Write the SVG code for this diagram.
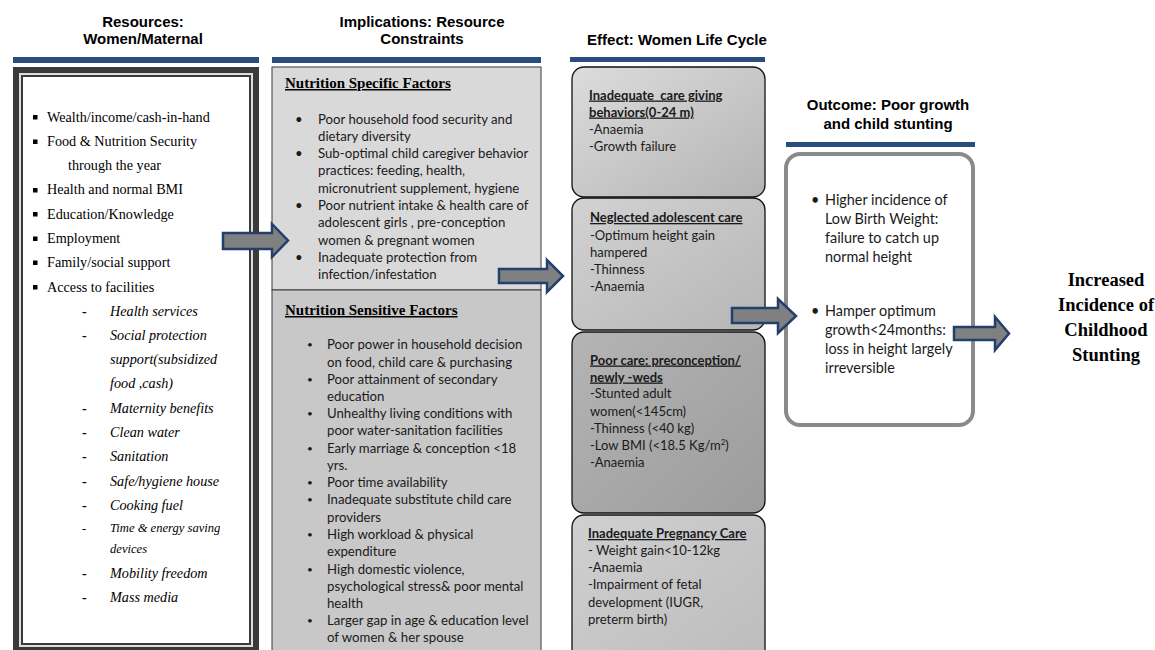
<svg xmlns="http://www.w3.org/2000/svg" width="1155" height="650" viewBox="0 0 1155 650">
<defs>
<linearGradient id="g1" x1="0" y1="0" x2="1" y2="1"><stop offset="0" stop-color="#dcdcdc"/><stop offset="1" stop-color="#b4b4b4"/></linearGradient>
<linearGradient id="g2" x1="0" y1="0" x2="1" y2="1"><stop offset="0" stop-color="#d2d2d2"/><stop offset="1" stop-color="#b6b6b6"/></linearGradient>
<linearGradient id="g3" x1="0" y1="0" x2="1" y2="1"><stop offset="0" stop-color="#b4b4b4"/><stop offset="1" stop-color="#9c9c9c"/></linearGradient>
<linearGradient id="g4" x1="0" y1="0" x2="1" y2="1"><stop offset="0" stop-color="#d0d0d0"/><stop offset="1" stop-color="#bcbcbc"/></linearGradient>
</defs>
<style>
.hd{font-family:"Liberation Sans",Arial,sans-serif;font-weight:bold;font-size:15px;fill:#000;text-anchor:middle}
.rule{fill:#2a4d80}
.ls{font-family:"Liberation Serif","Times New Roman",serif;font-size:14.2px;fill:#000}
.li{font-family:"Liberation Serif","Times New Roman",serif;font-size:14.2px;font-style:italic;fill:#000}
.dash{font-family:"Liberation Serif",serif;font-size:14.2px;font-weight:bold;fill:#000}
.sm{font-size:12.6px}
.sq{fill:#000}
.mt{font-family:"Liberation Serif","Times New Roman",serif;font-size:15px;font-weight:bold;text-decoration:underline;fill:#000}
.cb{font-family:Lato,"Liberation Sans",sans-serif;font-size:13.2px;fill:#1a1a1a}
.cb .sb{font-size:10px}
.ce{font-family:Lato,"Liberation Sans",sans-serif;font-size:13px;fill:#1a1a1a;white-space:pre}
.ceb{font-family:Lato,"Liberation Sans",sans-serif;font-size:13px;font-weight:bold;text-decoration:underline;fill:#1a1a1a;white-space:pre}
.sup{font-size:8px}
.co{font-family:Lato,"Liberation Sans",sans-serif;font-size:14.4px;fill:#1a1a1a}
.fin{font-family:"Liberation Serif","Times New Roman",serif;font-size:18.5px;font-weight:bold;fill:#000;text-anchor:middle}
.ebox{stroke:#111;stroke-width:1.3}
.arr{fill:#808080;stroke:#22406b;stroke-width:2.5;stroke-linejoin:miter}
</style>
<rect width="1155" height="650" fill="#fff"/>

<g id="header-resources">
<text class="hd" x="143" y="27">Resources:</text>
<text class="hd" x="143" y="44">Women/Maternal</text>
<rect class="rule" x="13" y="57" width="246" height="6"/>
</g>
<g id="header-implications">
<text class="hd" x="422" y="27">Implications: Resource</text>
<text class="hd" x="422" y="44">Constraints</text>
<rect class="rule" x="272" y="57" width="269" height="6"/>
</g>
<g id="header-effect">
<text class="hd" x="677" y="45">Effect: Women Life Cycle</text>
<rect class="rule" x="570" y="57" width="195" height="5"/>
</g>
<g id="header-outcome">
<text class="hd" x="888" y="110">Outcome: Poor growth</text>
<text class="hd" x="888" y="129">and child stunting</text>
<rect class="rule" x="786" y="142" width="189" height="5"/>
</g>

<g id="node-resources">
<rect x="13" y="67" width="246" height="586" fill="#3a3a3a"/>
<rect x="19" y="73" width="234" height="574" fill="#dedede"/>
<rect x="21" y="75" width="230" height="570" fill="#3a3a3a"/>
<rect x="23" y="77" width="226" height="566" fill="#fff"/>
<rect class="sq" x="33" y="115" width="4.5" height="4.5"/>
<text class="ls" x="47" y="121.5">Wealth/income/cash-in-hand</text>
<rect class="sq" x="33" y="139.5" width="4.5" height="4.5"/>
<text class="ls" x="47" y="146">Food &amp; Nutrition Security</text>
<text class="ls" x="68" y="170">through the year</text>
<rect class="sq" x="33" y="188" width="4.5" height="4.5"/>
<text class="ls" x="47" y="194">Health and normal BMI</text>
<rect class="sq" x="33" y="212" width="4.5" height="4.5"/>
<text class="ls" x="47" y="218.5">Education/Knowledge</text>
<rect class="sq" x="33" y="236.5" width="4.5" height="4.5"/>
<text class="ls" x="47" y="243">Employment</text>
<rect class="sq" x="33" y="260.5" width="4.5" height="4.5"/>
<text class="ls" x="47" y="267">Family/social support</text>
<rect class="sq" x="33" y="285" width="4.5" height="4.5"/>
<text class="ls" x="47" y="291.5">Access to facilities</text>
<text class="dash" x="82" y="315.5">-</text><text class="li" x="110" y="315.5">Health services</text>
<text class="dash" x="82" y="340">-</text><text class="li" x="110" y="340">Social protection</text>
<text class="li" x="110" y="364">support(subsidized</text>
<text class="li" x="110" y="388">food ,cash)</text>
<text class="dash" x="82" y="412.5">-</text><text class="li" x="110" y="412.5">Maternity benefits</text>
<text class="dash" x="82" y="437">-</text><text class="li" x="110" y="437">Clean water</text>
<text class="dash" x="82" y="461">-</text><text class="li" x="110" y="461">Sanitation</text>
<text class="dash" x="82" y="485.5">-</text><text class="li" x="110" y="485.5">Safe/hygiene house</text>
<text class="dash" x="82" y="509.5">-</text><text class="li" x="110" y="509.5">Cooking fuel</text>
<text class="ls sm" x="82" y="532">-</text><text class="li sm" x="110" y="532">Time &amp; energy saving</text>
<text class="li sm" x="110" y="553">devices</text>
<text class="dash" x="82" y="577.5">-</text><text class="li" x="110" y="577.5">Mobility freedom</text>
<text class="dash" x="82" y="601.5">-</text><text class="li" x="110" y="601.5">Mass media</text>
</g>

<g id="node-implications">
<rect x="272" y="67" width="269" height="223" fill="#d9d9d9" stroke="#3a3a3a" stroke-width="1"/>
<rect x="272" y="290" width="269" height="370" fill="#c8c8c8" stroke="#3a3a3a" stroke-width="1"/>
<text class="mt" x="285" y="88">Nutrition Specific Factors</text>
<g class="cb">
<text x="295" y="123.5">•</text><text x="318" y="123.5">Poor household food security and</text>
<text x="318" y="140.5">dietary diversity</text>
<text x="295" y="158">•</text><text x="318" y="158">Sub-optimal child caregiver behavior</text>
<text x="318" y="175">practices: feeding, health,</text>
<text x="318" y="192.5">micronutrient supplement, hygiene</text>
<text x="295" y="210">•</text><text x="318" y="210">Poor nutrient intake &amp; health care of</text>
<text x="318" y="227">adolescent girls , pre-conception</text>
<text x="318" y="244.5">women &amp; pregnant women</text>
<text x="295" y="262">•</text><text x="318" y="262">Inadequate protection from</text>
<text x="318" y="279">infection/infestation</text>
</g>
<text class="mt" x="285" y="315">Nutrition Sensitive Factors</text>
<g class="cb">
<text class="sb" x="307" y="348">•</text><text x="327" y="349">Poor power in household decision</text>
<text x="327" y="366.5">on food, child care &amp; purchasing</text>
<text class="sb" x="307" y="382.5">•</text><text x="327" y="383.5">Poor attainment of secondary</text>
<text x="327" y="401">education</text>
<text class="sb" x="307" y="417">•</text><text x="327" y="418">Unhealthy living conditions with</text>
<text x="327" y="435">poor water-sanitation facilities</text>
<text class="sb" x="307" y="451.5">•</text><text x="327" y="452.5">Early marriage &amp; conception &lt;18</text>
<text x="327" y="470">yrs.</text>
<text class="sb" x="307" y="486">•</text><text x="327" y="487">Poor time availability</text>
<text class="sb" x="307" y="503">•</text><text x="327" y="504">Inadequate substitute child care</text>
<text x="327" y="521.5">providers</text>
<text class="sb" x="307" y="538">•</text><text x="327" y="539">High workload &amp; physical</text>
<text x="327" y="556">expenditure</text>
<text class="sb" x="307" y="572.5">•</text><text x="327" y="573.5">High domestic violence,</text>
<text x="327" y="590.5">psychological stress&amp; poor mental</text>
<text x="327" y="608">health</text>
<text class="sb" x="307" y="624">•</text><text x="327" y="625">Larger gap in age &amp; education level</text>
<text x="327" y="642">of women &amp; her spouse</text>
</g>
</g>

<g id="node-effect-infant">
<rect class="ebox" x="572" y="67" width="193" height="130" rx="12" fill="url(#g1)"/>
<text class="ceb" x="589" y="99.5">Inadequate  care giving</text>
<text class="ceb" x="589" y="116.5">behaviors(0-24 m)</text>
<text class="ce" x="589" y="133.5">-Anaemia</text>
<text class="ce" x="589" y="150.5">-Growth failure</text>
</g>
<g id="node-effect-adolescent">
<rect class="ebox" x="572" y="198" width="193" height="132" rx="12" fill="url(#g2)"/>
<text class="ceb" x="590" y="222">Neglected adolescent care</text>
<text class="ce" x="590" y="239.5">-Optimum height gain</text>
<text class="ce" x="590" y="256.5">hampered</text>
<text class="ce" x="590" y="273.5">-Thinness</text>
<text class="ce" x="590" y="290.5">-Anaemia</text>
</g>
<g id="node-effect-preconception">
<rect class="ebox" x="572" y="332" width="193" height="181" rx="12" fill="url(#g3)"/>
<text class="ceb" x="590" y="364.5">Poor care: preconception/</text>
<text class="ceb" x="590" y="381.5">newly -weds</text>
<text class="ce" x="590" y="398">-Stunted adult</text>
<text class="ce" x="590" y="415.5">women(&lt;145cm)</text>
<text class="ce" x="590" y="432.5">-Thinness (&lt;40 kg)</text>
<text class="ce" x="590" y="449.5">-Low BMI (&lt;18.5 Kg/m<tspan class="sup" dy="-5">2</tspan><tspan dy="5">)</tspan></text>
<text class="ce" x="590" y="466.5">-Anaemia</text>
</g>
<g id="node-effect-pregnancy">
<rect class="ebox" x="572" y="515" width="193" height="150" rx="12" fill="url(#g4)"/>
<text class="ceb" x="588" y="538">Inadequate Pregnancy Care</text>
<text class="ce" x="588" y="555">- Weight gain&lt;10-12kg</text>
<text class="ce" x="588" y="572">-Anaemia</text>
<text class="ce" x="588" y="589">-Impairment of fetal</text>
<text class="ce" x="588" y="606.5">development (IUGR,</text>
<text class="ce" x="588" y="623.5">preterm birth)</text>
</g>

<g id="node-outcome">
<rect x="786" y="154" width="187" height="271" rx="14" fill="#fff" stroke="#8a8a8a" stroke-width="4"/>
<g class="co">
<text x="811" y="205">•</text><text x="825" y="205">Higher incidence of</text>
<text x="825" y="224">Low Birth Weight:</text>
<text x="825" y="243">failure to catch up</text>
<text x="825" y="262">normal height</text>
<text x="811" y="316">•</text><text x="825" y="316">Hamper optimum</text>
<text x="825" y="335">growth&lt;24months:</text>
<text x="825" y="354">loss in height largely</text>
<text x="825" y="373">irreversible</text>
</g>
</g>

<g id="node-final">
<text class="fin" x="1106" y="286">Increased</text>
<text class="fin" x="1106" y="311">Incidence of</text>
<text class="fin" x="1106" y="336">Childhood</text>
<text class="fin" x="1106" y="361">Stunting</text>
</g>

<g id="connectors">
<polygon class="arr" points="223,233 272,233 272,224 288,240.5 272,257 272,249 223,249"/>
<polygon class="arr" points="499,269 547,269 547,260 563,276 547,292 547,283 499,283"/>
<polygon class="arr" points="732,308 778,308 778,299 796,316 778,333 778,323 732,323"/>
<polygon class="arr" points="954,327 995,327 995,317 1009,333.5 995,350 995,340 954,340"/>
</g>
</svg>
